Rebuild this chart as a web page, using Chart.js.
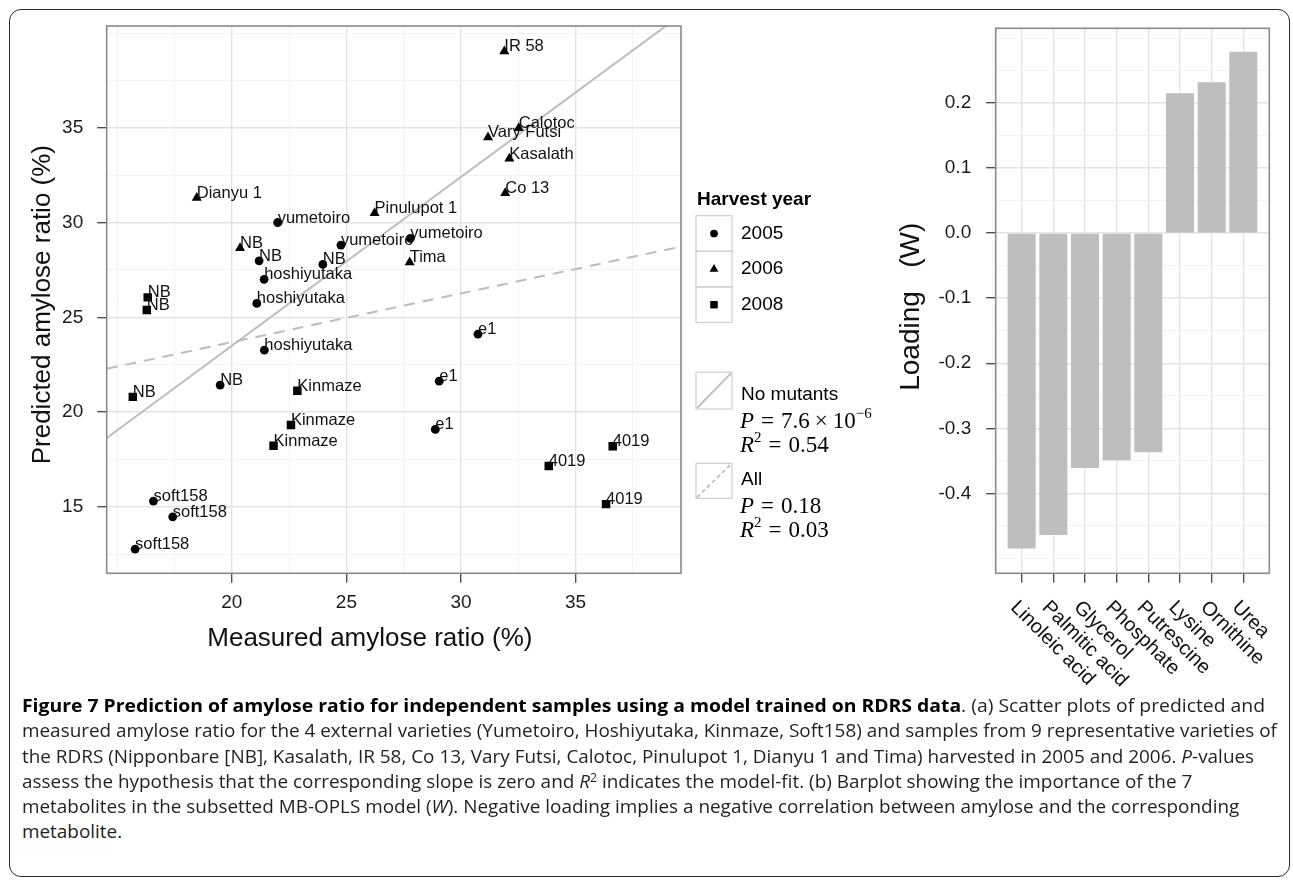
<!DOCTYPE html>
<html>
<head>
<meta charset="utf-8">
<title>Figure 7</title>
<script src="https://cdn.jsdelivr.net/npm/chart.js@4.4.1/dist/chart.umd.min.js"></script>
<style>
  html, body { margin: 0; padding: 0; background: #fff; }
  body { position: relative; width: 1293px; height: 881px; overflow: hidden; }
  #frame { position: absolute; left: 9px; top: 9px; width: 1281px; height: 868px; box-sizing: border-box; border: 1.5px solid #2a2a2a; border-radius: 12px; }
  #scatter { position: absolute; left: 0; top: 0; }
  #bars { position: absolute; left: 890px; top: 0; }
  .cap { position: absolute; left: 22px; white-space: nowrap; font-family: "Open Sans", sans-serif; font-size: 18px; line-height: 25px; color: #231f20; transform-origin: 0 50%; }
  .cap b { font-weight: 700; color: #000; }
  .cap sup { font-size: 0.65em; line-height: 0; vertical-align: 0.55em; }
</style>
</head>
<body>
<div id="frame"></div>
<canvas id="scatter" width="890" height="680"></canvas>
<canvas id="bars" width="403" height="705"></canvas>

<div class="cap" style="top:693px"><b>Figure 7 Prediction of amylose ratio for independent samples using a model trained on RDRS data</b>. (a) Scatter plots of predicted and</div>
<div class="cap" style="top:718px">measured amylose ratio for the 4 external varieties (Yumetoiro, Hoshiyutaka, Kinmaze, Soft158) and samples from 9 representative varieties of</div>
<div class="cap" style="top:744px">the RDRS (Nipponbare [NB], Kasalath, IR 58, Co 13, Vary Futsi, Calotoc, Pinulupot 1, Dianyu 1 and Tima) harvested in 2005 and 2006. <i>P</i>-values</div>
<div class="cap" style="top:769px">assess the hypothesis that the corresponding slope is zero and <i>R</i><sup>2</sup> indicates the model-fit. (b) Barplot showing the importance of the 7</div>
<div class="cap" style="top:794px">metabolites in the subsetted MB-OPLS model (<i>W</i>). Negative loading implies a negative correlation between amylose and the corresponding</div>
<div class="cap" style="top:819px">metabolite.</div>

<script>
// (a) scatter: measured vs predicted amylose ratio (%)
const names2005 = ['yumetoiro', 'yumetoiro', 'yumetoiro', 'NB', 'NB', 'NB', 'hoshiyutaka', 'hoshiyutaka', 'hoshiyutaka', 'e1', 'e1', 'e1', 'soft158', 'soft158', 'soft158'];
const measured2005 = [22.0, 24.76, 27.79, 21.19, 23.97, 19.49, 21.41, 21.09, 21.42, 30.74, 29.05, 28.88, 16.58, 17.42, 15.78];
const predicted2005 = [30.0, 28.81, 29.16, 27.98, 27.79, 21.42, 27.0, 25.73, 23.27, 24.11, 21.63, 19.08, 15.30, 14.47, 12.77];

const names2006 = ['Dianyu 1', 'Pinulupot 1', 'NB', 'IR 58', 'Vary Futsi', 'Calotoc', 'Kasalath', 'Co 13', 'Tima'];
const measured2006 = [18.47, 26.23, 20.36, 31.89, 31.18, 32.52, 32.11, 31.93, 27.76];
const predicted2006 = [31.3, 30.5, 28.65, 39.03, 34.5, 34.98, 33.37, 31.55, 27.9];

const names2008 = ['NB', 'NB', 'NB', 'Kinmaze', 'Kinmaze', 'Kinmaze', '4019', '4019', '4019'];
const measured2008 = [16.33, 16.29, 15.68, 22.86, 22.58, 21.82, 36.62, 33.83, 36.33];
const predicted2008 = [26.05, 25.38, 20.8, 21.12, 19.31, 18.22, 18.2, 17.15, 15.14];

// regression lines, end points
const fitX = [14.54, 39.6];
const fitNoMutants = [18.63, 40.96];
const fitAll = [22.28, 28.73];

const xMajorTicks = [20, 25, 30, 35];
const xMinorTicks = [15, 17.5, 22.5, 27.5, 32.5, 37.5];
const yMajorTicks = [15, 20, 25, 30, 35];
const yMinorTicks = [12.5, 17.5, 22.5, 27.5, 32.5, 37.5, 40];

// (b) loadings
const metabolites = ['Linoleic acid', 'Palmitic acid', 'Glycerol', 'Phosphate', 'Putrescine', 'Lysine', 'Ornithine', 'Urea'];
const loadings = [-0.485, -0.464, -0.361, -0.349, -0.337, 0.215, 0.232, 0.279];
const loadMajorTicks = [-0.4, -0.3, -0.2, -0.1, 0, 0.1, 0.2];
const loadMinorTicks = [-0.5, -0.45, -0.35, -0.25, -0.15, -0.05, 0.05, 0.15, 0.25, 0.3];

const SANS = '"Liberation Sans", Arial, sans-serif';
const SERIF = '"Liberation Serif", "Times New Roman", serif';

function pts(xs, ys) {
  return xs.map((x, i) => ({ x: x, y: ys[i] }));
}

function tickList(major, minor) {
  return major.concat(minor).sort((a, b) => a - b).map(v => ({ value: v }));
}

function gridFor(major) {
  const isMajor = c => c.tick && major.includes(c.tick.value);
  return {
    color: c => isMajor(c) ? '#e3e3e3' : '#f3f3f3',
    lineWidth: c => isMajor(c) ? 1.4 : 1,
    tickLength: 9.5,
    tickWidth: 1.3,
    tickColor: c => isMajor(c) ? '#444' : 'rgba(0,0,0,0)'
  };
}

// draws a run of text pieces (for the little math legends)
function drawMath(ctx, x, y, parts) {
  let cx = x;
  parts.forEach(p => {
    if (p.gap) { cx += p.gap; return; }
    ctx.font = (p.it ? 'italic ' : '') + (p.sup ? '15px ' : '23px ') + SERIF;
    ctx.fillText(p.t, cx, y - (p.sup ? 10 : 0));
    cx += ctx.measureText(p.t).width;
  });
}

const scatterDecor = {
  id: 'scatterDecor',
  afterDatasetsDraw(chart) {
    const ctx = chart.ctx, a = chart.chartArea;
    ctx.save();
    ctx.font = '16.5px ' + SANS;
    ctx.fillStyle = '#111';
    ctx.textAlign = 'left';
    ctx.textBaseline = 'alphabetic';
    [names2005, names2006, names2008].forEach((names, d) => {
      chart.getDatasetMeta(d).data.forEach((el, i) => {
        ctx.fillText(names[i], el.x, el.y);
      });
    });
    ctx.strokeStyle = '#8a8a8a';
    ctx.lineWidth = 1.6;
    ctx.strokeRect(a.left, a.top, a.right - a.left, a.bottom - a.top);
    ctx.restore();
  },
  afterDraw(chart) {
    const ctx = chart.ctx, a = chart.chartArea;
    ctx.save();
    ctx.fillStyle = '#111';

    // axis titles
    ctx.font = '26px ' + SANS;
    ctx.textAlign = 'center';
    ctx.textBaseline = 'alphabetic';
    ctx.fillText('Measured amylose ratio (%)', (a.left + a.right) / 2 - 24, a.bottom + 73);
    ctx.save();
    ctx.translate(50, (a.top + a.bottom) / 2 + 5);
    ctx.rotate(-Math.PI / 2);
    ctx.fillText('Predicted amylose ratio (%)', 0, 0);
    ctx.restore();

    // legend: harvest year
    const lx = a.right + 15;
    ctx.textAlign = 'left';
    ctx.font = 'bold 19px ' + SANS;
    ctx.fillStyle = '#000';
    ctx.fillText('Harvest year', lx + 1, 205);
    const keyH = 35.6;
    for (let k = 0; k < 3; k++) {
      const ds = chart.data.datasets[k];
      const top = 215.7 + k * keyH;
      ctx.strokeStyle = '#cfcfcf';
      ctx.lineWidth = 1.2;
      ctx.strokeRect(lx, top, 36, keyH);
      ctx.fillStyle = '#000';
      Chart.helpers.drawPoint(ctx, { pointStyle: ds.pointStyle, radius: ds.pointRadius * 0.88, borderWidth: 0 }, lx + 18, top + keyH / 2);
      ctx.font = '19px ' + SANS;
      ctx.textBaseline = 'middle';
      ctx.fillText(ds.label, lx + 45, top + keyH / 2);
    }

    // legend: fitted lines
    const lineKeys = [
      { ds: chart.data.datasets[3], top: 372.3, h: 36.7, y0: 400, p: [{ t: 'P', it: true }, { gap: 7 }, { t: '=' }, { gap: 7 }, { t: '7.6' }, { gap: 5 }, { t: '\u00d7' }, { gap: 5 }, { t: '10' }, { t: '\u22126', sup: true }], r: '0.54' },
      { ds: chart.data.datasets[4], top: 463.3, h: 35, y0: 485, p: [{ t: 'P', it: true }, { gap: 7 }, { t: '=' }, { gap: 7 }, { t: '0.18' }], r: '0.03' }
    ];
    lineKeys.forEach(k => {
      ctx.strokeStyle = '#cfcfcf';
      ctx.lineWidth = 1.2;
      ctx.setLineDash([]);
      ctx.strokeRect(lx, k.top, 36, k.h);
      ctx.strokeStyle = k.ds.borderColor;
      ctx.lineWidth = 1.8;
      ctx.setLineDash(k.ds.borderDash ? [4, 3] : []);
      ctx.beginPath();
      ctx.moveTo(lx + 1, k.top + k.h - 1);
      ctx.lineTo(lx + 35, k.top + 1);
      ctx.stroke();
      ctx.setLineDash([]);
      ctx.fillStyle = '#000';
      ctx.textBaseline = 'alphabetic';
      ctx.font = '19px ' + SANS;
      ctx.fillText(k.ds.label, lx + 45, k.y0);
      drawMath(ctx, lx + 44, k.y0 + 28, k.p);
      drawMath(ctx, lx + 44, k.y0 + 52, [{ t: 'R', it: true }, { t: '2', sup: true }, { gap: 7 }, { t: '=' }, { gap: 7 }, { t: k.r }]);
    });
    ctx.restore();
  }
};

const scatterChart = new Chart(document.getElementById('scatter'), {
  type: 'scatter',
  data: {
    datasets: [
      { label: '2005', data: pts(measured2005, predicted2005), pointStyle: 'circle', pointRadius: 4.4, backgroundColor: '#000', borderWidth: 0, order: 0 },
      { label: '2006', data: pts(measured2006, predicted2006), pointStyle: 'triangle', pointRadius: 5.8, backgroundColor: '#000', borderWidth: 0, order: 0 },
      { label: '2008', data: pts(measured2008, predicted2008), pointStyle: 'rect', pointRadius: 6, backgroundColor: '#000', borderWidth: 0, order: 0 },
      { type: 'line', label: 'No mutants', data: pts(fitX, fitNoMutants), borderColor: '#bdbdbd', borderWidth: 2, pointRadius: 0, fill: false, order: 1 },
      { type: 'line', label: 'All', data: pts(fitX, fitAll), borderColor: '#bdbdbd', borderWidth: 2, borderDash: [11, 8], pointRadius: 0, fill: false, order: 1 }
    ]
  },
  options: {
    responsive: false,
    animation: false,
    events: [],
    layout: { padding: { left: 0, top: 26, right: 209, bottom: 0 } },
    plugins: { legend: { display: false }, tooltip: { enabled: false } },
    scales: {
      x: {
        type: 'linear', min: 14.54, max: 39.6,
        afterBuildTicks: s => { s.ticks = tickList(xMajorTicks, xMinorTicks); },
        afterFit: s => { s.height = 680 - 573.3; },
        grid: gridFor(xMajorTicks),
        border: { display: false },
        ticks: {
          autoSkip: false, maxRotation: 0, padding: 9,
          color: '#1a1a1a', font: { family: SANS, size: 19 },
          callback: v => xMajorTicks.includes(v) ? String(v) : ''
        }
      },
      y: {
        type: 'linear', min: 11.49, max: 40.37,
        afterBuildTicks: s => { s.ticks = tickList(yMajorTicks, yMinorTicks); },
        afterFit: s => { s.width = 106.7; },
        grid: gridFor(yMajorTicks),
        border: { display: false },
        ticks: {
          autoSkip: false, padding: 14,
          color: '#1a1a1a', font: { family: SANS, size: 19 },
          callback: v => yMajorTicks.includes(v) ? String(v) : ''
        }
      }
    }
  },
  plugins: [scatterDecor]
});

const barDecor = {
  id: 'barDecor',
  afterDatasetsDraw(chart) {
    const ctx = chart.ctx, a = chart.chartArea;
    ctx.save();
    ctx.strokeStyle = '#8a8a8a';
    ctx.lineWidth = 1.6;
    ctx.strokeRect(a.left, a.top, a.right - a.left, a.bottom - a.top);
    ctx.restore();
  },
  afterDraw(chart) {
    const ctx = chart.ctx, a = chart.chartArea, xs = chart.scales.x;
    ctx.save();
    ctx.fillStyle = '#111';
    ctx.font = '20px ' + SANS;
    ctx.textAlign = 'left';
    ctx.textBaseline = 'top';
    metabolites.forEach((m, i) => {
      const px = xs.getPixelForValue(i + 1);
      ctx.save();
      ctx.translate(px - 1, a.bottom + 24);
      ctx.rotate(Math.PI / 4);
      ctx.fillText(m, 0, 0);
      ctx.restore();
    });
    ctx.translate(28.5, (a.top + a.bottom) / 2 + 6);
    ctx.rotate(-Math.PI / 2);
    ctx.font = '28px ' + SANS;
    ctx.textAlign = 'center';
    ctx.textBaseline = 'alphabetic';
    ctx.fillText('Loading   (W)', 0, 0);
    ctx.restore();
  }
};

const catTicks = metabolites.map((m, i) => i + 1);

const barChart = new Chart(document.getElementById('bars'), {
  type: 'bar',
  data: {
    datasets: [{
      label: 'Loading',
      data: pts(catTicks, loadings),
      backgroundColor: '#bebebe',
      borderWidth: 0,
      barPercentage: 0.885,
      categoryPercentage: 1
    }]
  },
  options: {
    responsive: false,
    animation: false,
    events: [],
    layout: { padding: { left: 0, top: 28.3, right: 23.7, bottom: 0 } },
    plugins: { legend: { display: false }, tooltip: { enabled: false } },
    scales: {
      x: {
        type: 'linear', min: 1 - 0.82, max: metabolites.length + 0.82,
        offset: false,
        afterBuildTicks: s => { s.ticks = catTicks.map(v => ({ value: v })); },
        afterFit: s => { s.height = 705 - 573.3; },
        grid: Object.assign(gridFor(catTicks), { offset: false }),
        border: { display: false },
        ticks: { display: false, autoSkip: false }
      },
      y: {
        type: 'linear', min: -0.523, max: 0.315,
        afterBuildTicks: s => { s.ticks = tickList(loadMajorTicks, loadMinorTicks); },
        afterFit: s => { s.width = 105.7; },
        grid: gridFor(loadMajorTicks),
        border: { display: false },
        ticks: {
          autoSkip: false, padding: 15,
          color: '#1a1a1a', font: { family: SANS, size: 19 },
          callback: v => loadMajorTicks.includes(v) ? v.toFixed(1) : ''
        }
      }
    }
  },
  plugins: [barDecor]
});

// squeeze the caption to the printed width: one common factor for the body
// lines (taken from the full lines), the bold first line fitted on its own
const captionRight = [1265, 1263, 1262, 1098, 1245, 122];
function fitCaption() {
  const lines = Array.from(document.querySelectorAll('.cap'));
  lines.forEach(el => { el.style.transform = 'none'; });
  const widths = lines.map(el => el.getBoundingClientRect().width);
  const full = [1, 2, 4];
  const body = full.reduce((s, i) => s + (captionRight[i] - 22) / widths[i], 0) / full.length;
  lines.forEach((el, i) => {
    const k = i === 0 ? (captionRight[0] - 22) / widths[0] : body;
    el.style.transform = 'scaleX(' + k + ')';
  });
}
fitCaption();
if (document.fonts) document.fonts.ready.then(fitCaption);
</script>
</body>
</html>
